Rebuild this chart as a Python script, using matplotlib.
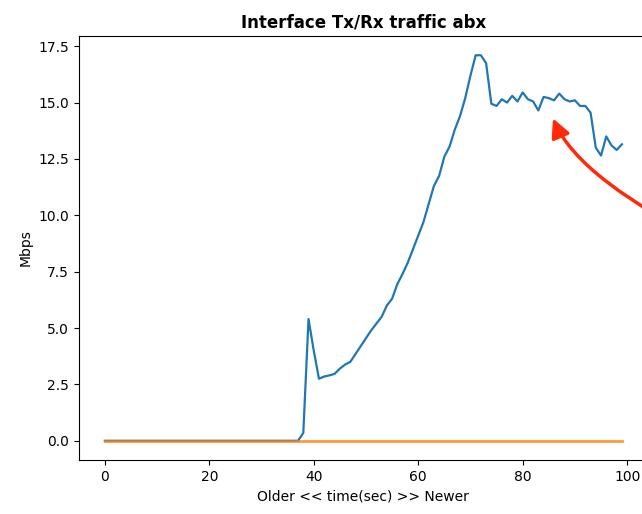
import matplotlib
matplotlib.use("Agg")
import matplotlib.pyplot as plt

seconds = list(range(100))

tx_mbps = [0.0] * 38 + [
	0.35, 5.4, 4.0, 2.75, 2.85, 2.9, 2.97, 3.2, 3.38, 3.5,
	3.85, 4.2, 4.55, 4.9, 5.2, 5.5, 6.0, 6.3, 6.95, 7.4,
	7.9, 8.5, 9.1, 9.7, 10.5, 11.3, 11.75, 12.6, 13.05, 13.8,
	14.4, 15.2, 16.2, 17.1, 17.1, 16.75, 14.95, 14.85, 15.15, 15.0,
	15.3, 15.05, 15.45, 15.15, 15.05, 14.65, 15.25, 15.2, 15.1, 15.4,
	15.15, 15.05, 15.1, 14.85, 14.85, 14.55, 13.0, 12.65, 13.5, 13.1,
	12.9, 13.15,
]
rx_mbps = [0.0] * 100

title = "Interface Tx/Rx traffic abx"
xlabel = "Older << time(sec) >> Newer"
ylabel = "Mbps"

# point the red arrow at, and where its tail starts (off the right edge)
arrow_tip = (85.8, 14.3)
arrow_tail = (117.8, 8.5)


def main() -> int:
	fig = plt.figure(figsize=(6.42, 5.14), dpi=100)
	ax = fig.add_axes([0.123, 0.105, 0.886, 0.825])

	ax.plot(seconds, tx_mbps, color="#1f77b4", lw=1.6)
	ax.plot(seconds, rx_mbps, color="#ff7f0e", lw=2.0, alpha=0.8)

	ax.annotate(
		"",
		xy=arrow_tip,
		xytext=arrow_tail,
		annotation_clip=False,
		arrowprops=dict(
			arrowstyle="-|>",
			color="#ff2a0a",
			lw=2.5,
			mutation_scale=28,
			shrinkA=0,
			shrinkB=0,
			connectionstyle="angle3,angleA=-26,angleB=-67",
		),
	)

	ax.set_title(title, fontweight="bold", fontsize=12)
	ax.set_xlabel(xlabel, fontsize=10)
	ax.set_ylabel(ylabel, fontsize=10)
	ax.tick_params(labelsize=10)

	fig.savefig("out.png", dpi=100)
	plt.close(fig)
	return 0


if __name__ == "__main__":
	raise SystemExit(main())
